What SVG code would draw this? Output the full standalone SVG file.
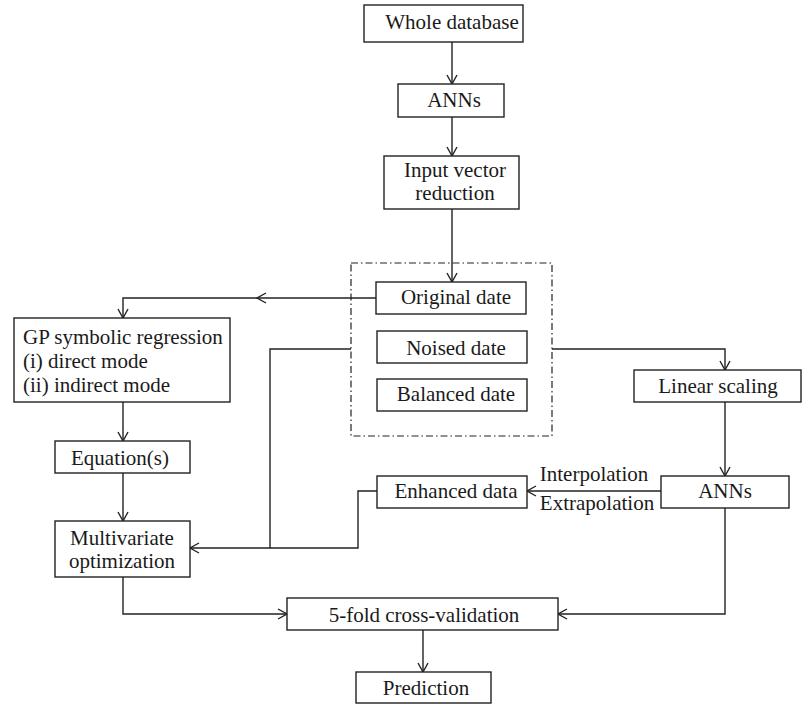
<svg xmlns="http://www.w3.org/2000/svg" width="803" height="705" viewBox="0 0 803 705">
<style>
.box{fill:#fff;stroke:#222;stroke-width:1.4}
.ln{fill:none;stroke:#222;stroke-width:1.4}
.grp{fill:none;stroke:#222;stroke-width:1.2;stroke-dasharray:7,3,1.5,3}
text{font-family:"Liberation Serif","Times New Roman",serif;font-size:21px;fill:#1a1a1a}
.c{text-anchor:middle}
</style>
<defs>
<marker id="ar" viewBox="0 0 12 12" refX="11" refY="6" markerWidth="12" markerHeight="12" markerUnits="userSpaceOnUse" orient="auto">
<polyline points="2,1 11,6 2,11" fill="none" stroke="#222" stroke-width="1.4"/>
</marker>
</defs>
<rect class="grp" x="351" y="263" width="201" height="173"/>
<g id="connectors">
<line class="ln" x1="452" y1="42" x2="452" y2="84" marker-end="url(#ar)"/>
<line class="ln" x1="452" y1="117" x2="452" y2="156" marker-end="url(#ar)"/>
<line class="ln" x1="452" y1="209" x2="452" y2="282" marker-end="url(#ar)"/>
<line class="ln" x1="376" y1="298" x2="257" y2="298" marker-end="url(#ar)"/>
<polyline class="ln" points="258,298 123,298 123,318" marker-end="url(#ar)"/>
<line class="ln" x1="123" y1="402" x2="123" y2="441" marker-end="url(#ar)"/>
<line class="ln" x1="123" y1="473" x2="123" y2="521" marker-end="url(#ar)"/>
<polyline class="ln" points="351,349 270,349 270,548 190,548" marker-end="url(#ar)"/>
<polyline class="ln" points="377,491 358,491 358,548 270,548"/>
<polyline class="ln" points="552,349 725,349 725,370" marker-end="url(#ar)"/>
<line class="ln" x1="725" y1="402" x2="725" y2="476" marker-end="url(#ar)"/>
<line class="ln" x1="661" y1="491" x2="527" y2="491" marker-end="url(#ar)"/>
<polyline class="ln" points="123,577 123,614 287,614" marker-end="url(#ar)"/>
<polyline class="ln" points="725,508 725,614 558,614" marker-end="url(#ar)"/>
<line class="ln" x1="423" y1="630" x2="423" y2="672" marker-end="url(#ar)"/>
</g>
<g id="whole"><rect class="box" x="364" y="5" width="159" height="37"/><text class="c" x="452" y="29">Whole database</text></g>
<g id="anns1"><rect class="box" x="398" y="84" width="106" height="33"/><text class="c" x="454" y="107">ANNs</text></g>
<g id="ivr"><rect class="box" x="384" y="156" width="135" height="53"/><text class="c" x="455" y="177">Input vector</text><text class="c" x="455" y="200">reduction</text></g>
<g id="orig"><rect class="box" x="376" y="282" width="150" height="32"/><text class="c" x="456" y="304">Original date</text></g>
<g id="noised"><rect class="box" x="377" y="331" width="150" height="32"/><text class="c" x="456" y="355">Noised date</text></g>
<g id="balanced"><rect class="box" x="377" y="379" width="150" height="32"/><text class="c" x="456" y="401">Balanced date</text></g>
<g id="gp"><rect class="box" x="14" y="318" width="216" height="84"/><text x="23" y="344">GP symbolic regression</text><text x="23" y="368">(i) direct mode</text><text x="23" y="392">(ii) indirect mode</text></g>
<g id="linear"><rect class="box" x="634" y="370" width="167" height="32"/><text class="c" x="718" y="393">Linear scaling</text></g>
<g id="eq"><rect class="box" x="55" y="441" width="135" height="32"/><text class="c" x="120" y="465">Equation(s)</text></g>
<g id="enh"><rect class="box" x="377" y="476" width="150" height="32"/><text class="c" x="456" y="498">Enhanced data</text></g>
<g id="anns2"><rect class="box" x="661" y="476" width="128" height="32"/><text class="c" x="725" y="498">ANNs</text></g>
<text class="c" x="594" y="481">Interpolation</text>
<text class="c" x="597" y="510">Extrapolation</text>
<g id="multi"><rect class="box" x="55" y="521" width="135" height="56"/><text class="c" x="122" y="545">Multivariate</text><text class="c" x="122" y="568">optimization</text></g>
<g id="cv"><rect class="box" x="287" y="598" width="271" height="32"/><text class="c" x="424" y="622">5-fold cross-validation</text></g>
<g id="pred"><rect class="box" x="356" y="672" width="135" height="31"/><text class="c" x="426" y="695">Prediction</text></g>
</svg>
